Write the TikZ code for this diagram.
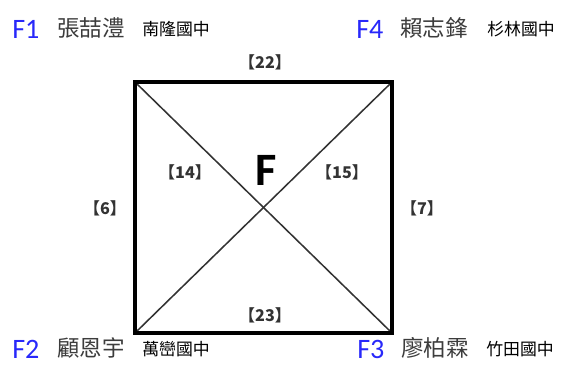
\documentclass[tikz,border=0pt]{standalone}
\usepackage{fontspec}
\setmainfont{Carlito}
\newfontfamily\cjk{Noto Sans CJK TC}
\usetikzlibrary{positioning}
\definecolor{teamblue}{RGB}{40,40,250}
\definecolor{namegray}{RGB}{60,60,60}

\begin{document}
\begin{tikzpicture}[x=0.025cm,y=-0.025cm,
  tag/.style={anchor=west,inner sep=0pt,font=\fontsize{20}{20}\selectfont,text=teamblue},
  who/.style={anchor=west,inner sep=0pt,font=\cjk\fontsize{16}{16}\selectfont,text=namegray},
  school/.style={anchor=west,inner sep=0pt,font=\cjk\fontsize{12}{12}\selectfont},
  score/.style={inner sep=0pt,font=\cjk\bfseries\fontsize{11.5}{11.5}\selectfont,text=black!80},
  edge/.style={line width=2.6pt,line cap=rect},
  diag/.style={line width=1.1pt,draw=black!80}]
\useasboundingbox (0,0) rectangle (561,364);
% square corners
\coordinate (tl) at (135,82);
\coordinate (tr) at (392,82);
\coordinate (bl) at (135,333);
\coordinate (br) at (392,333);
\draw[diag](tl)--(br);
\draw[diag](tr)--(bl);
\draw[edge](tl)--(tr)--(br)--(bl)--cycle;
% players
\node[tag](f1) at (12,29){F1};
\node[who](n1) at (57,28){張喆澧};
\node[school](s1) at (142,29){南隆國中};
\node[tag](f4) at (356,29){F4};
\node[who](n4) at (400,28){賴志鋒};
\node[school](s4) at (487,29){杉林國中};
\node[tag](f2) at (12,349){F2};
\node[who](n2) at (57,348){顧恩宇};
\node[school](s2) at (142,349){萬巒國中};
\node[tag](f3) at (357,349){F3};
\node[who](n3) at (401,348){廖柏霖};
\node[school](s3) at (486,349){竹田國中};
% match numbers
\node[score](m22) at (265,62){【22】};
\node[score](m23) at (265,315){【23】};
\node[score](m6) at (105,208){【6】};
\node[score](m7) at (422,208){【7】};
\node[score](m14) at (185,172){【14】};
\node[score](m15) at (342,172){【15】};
\node[font=\bfseries\fontsize{33}{33}\selectfont,inner sep=0pt](grp) at (266,170){F};
\end{tikzpicture}
\end{document}
